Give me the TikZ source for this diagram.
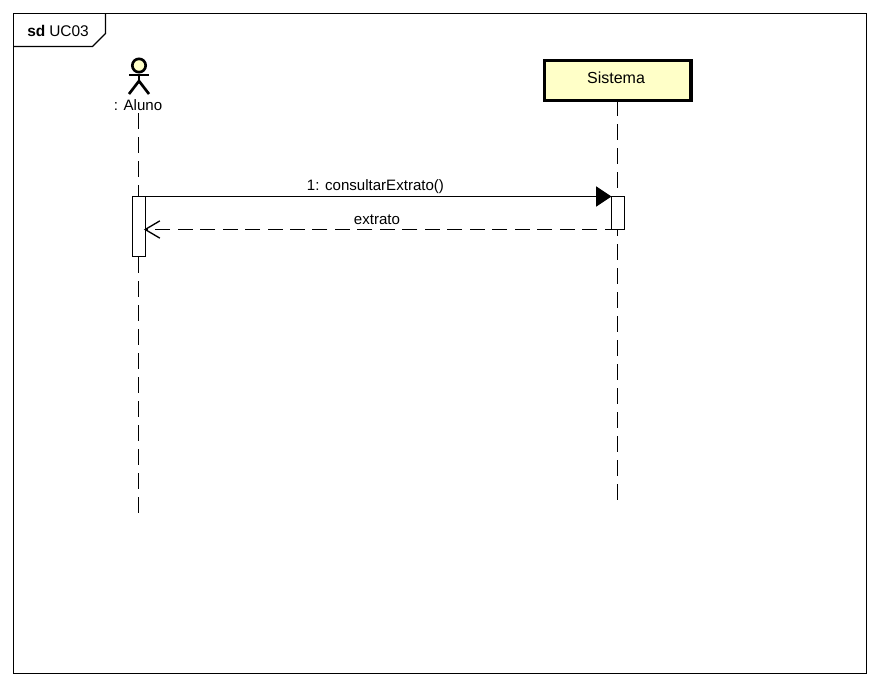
\documentclass[tikz,border=0pt]{standalone}
\usepackage{fontspec}
\setmainfont{Liberation Sans}
\usetikzlibrary{arrows.meta}
\definecolor{umlfill}{HTML}{FFFFC8}
\tikzset{
  px/.style={x=0.75pt,y=-0.75pt},
  line/.style={draw=black,line width=1pt},
  lifeline/.style={line,dash pattern=on 12pt off 6pt},
  label/.style={font=\fontsize{11.3pt}{13pt}\selectfont,inner sep=0pt,text=black},
  actbar/.style={draw=black,fill=white,line width=1pt,minimum width=9.75pt,inner sep=0pt,outer sep=0pt},
  headbox/.style={draw=black,fill=umlfill,line width=2.4pt,minimum width=110pt,minimum height=29.5pt,inner sep=0pt,outer sep=0pt},
  callmsg/.style={line,-{Triangle[length=11.5pt,width=15pt,fill=black]}},
  replymsg/.style={line,dash pattern=on 11.25pt off 5.6pt,dash phase=6pt,shorten >=-1.2pt,-{Straight Barb[length=11pt,width=13pt,line width=1pt]}},
}
\begin{document}
\begin{tikzpicture}[px]
\useasboundingbox (0,0) rectangle (880,686);
% frame
\draw[line] (13.5,13.5) rectangle (866.5,673.5);
\coordinate (tabA) at (13.5,46.5);
\coordinate (tabB) at (92.5,46.5);
\coordinate (tabC) at (105.5,33.5);
\coordinate (tabD) at (105.5,13.5);
\draw[line] (tabA) -- (tabB) -- (tabC) -- (tabD);
\node[label,anchor=base west,font=\fontsize{11.6pt}{13pt}\selectfont] (frameKw) at (27,36.5) {\textbf{sd}};
\node[label,anchor=base west,font=\fontsize{11.6pt}{13pt}\selectfont] (frameName) at (49,36.5) {UC03};
% lifeline ends
\coordinate (alunoTop) at (138.5,113);
\coordinate (alunoEnd) at (138.5,513.5);
\coordinate (sistemaEnd) at (617.5,500.5);
% actor
\node[circle,draw=black,fill=umlfill,line width=2pt,minimum size=10pt,inner sep=0pt] (head) at (139,65.5) {};
\coordinate (hip) at (139,81);
\coordinate (armL) at (129,75);
\coordinate (armR) at (149,75);
\coordinate (legL) at (129,94);
\coordinate (legR) at (149,94);
\draw[line width=2pt] (head) -- (hip);
\draw[line width=2pt] (armL) -- (armR);
\draw[line width=2pt] (legL) -- (hip) -- (legR);
\node[label] (aluno) at (138,105.5) {: Aluno};
% head box
\node[headbox] (sistema) at (617.7,80.5) {};
\node[label,font=\fontsize{12pt}{14pt}\selectfont] (sistemaText) at (616,77.5) {Sistema};
% lifelines
\draw[lifeline] (alunoTop) -- (alunoEnd);
\draw[lifeline] (sistema.south -| sistemaEnd) -- (sistemaEnd);
% activations
\node[actbar,minimum height=45pt,anchor=north] (actA) at (139,196.5) {};
\node[actbar,minimum height=24.75pt,anchor=north] (actS) at (618,196.5) {};
% messages
\draw[callmsg] (actA.north east) -- (actS.north west);
\node[label] (msg1) at (375.5,186.5) {1: consultarExtrato()};
\coordinate (replyStart) at (actS.south west);
\draw[replymsg] (replyStart) -- (replyStart -| actA.east);
\node[label] (msg2) at (377,220) {extrato};
\end{tikzpicture}
\end{document}
